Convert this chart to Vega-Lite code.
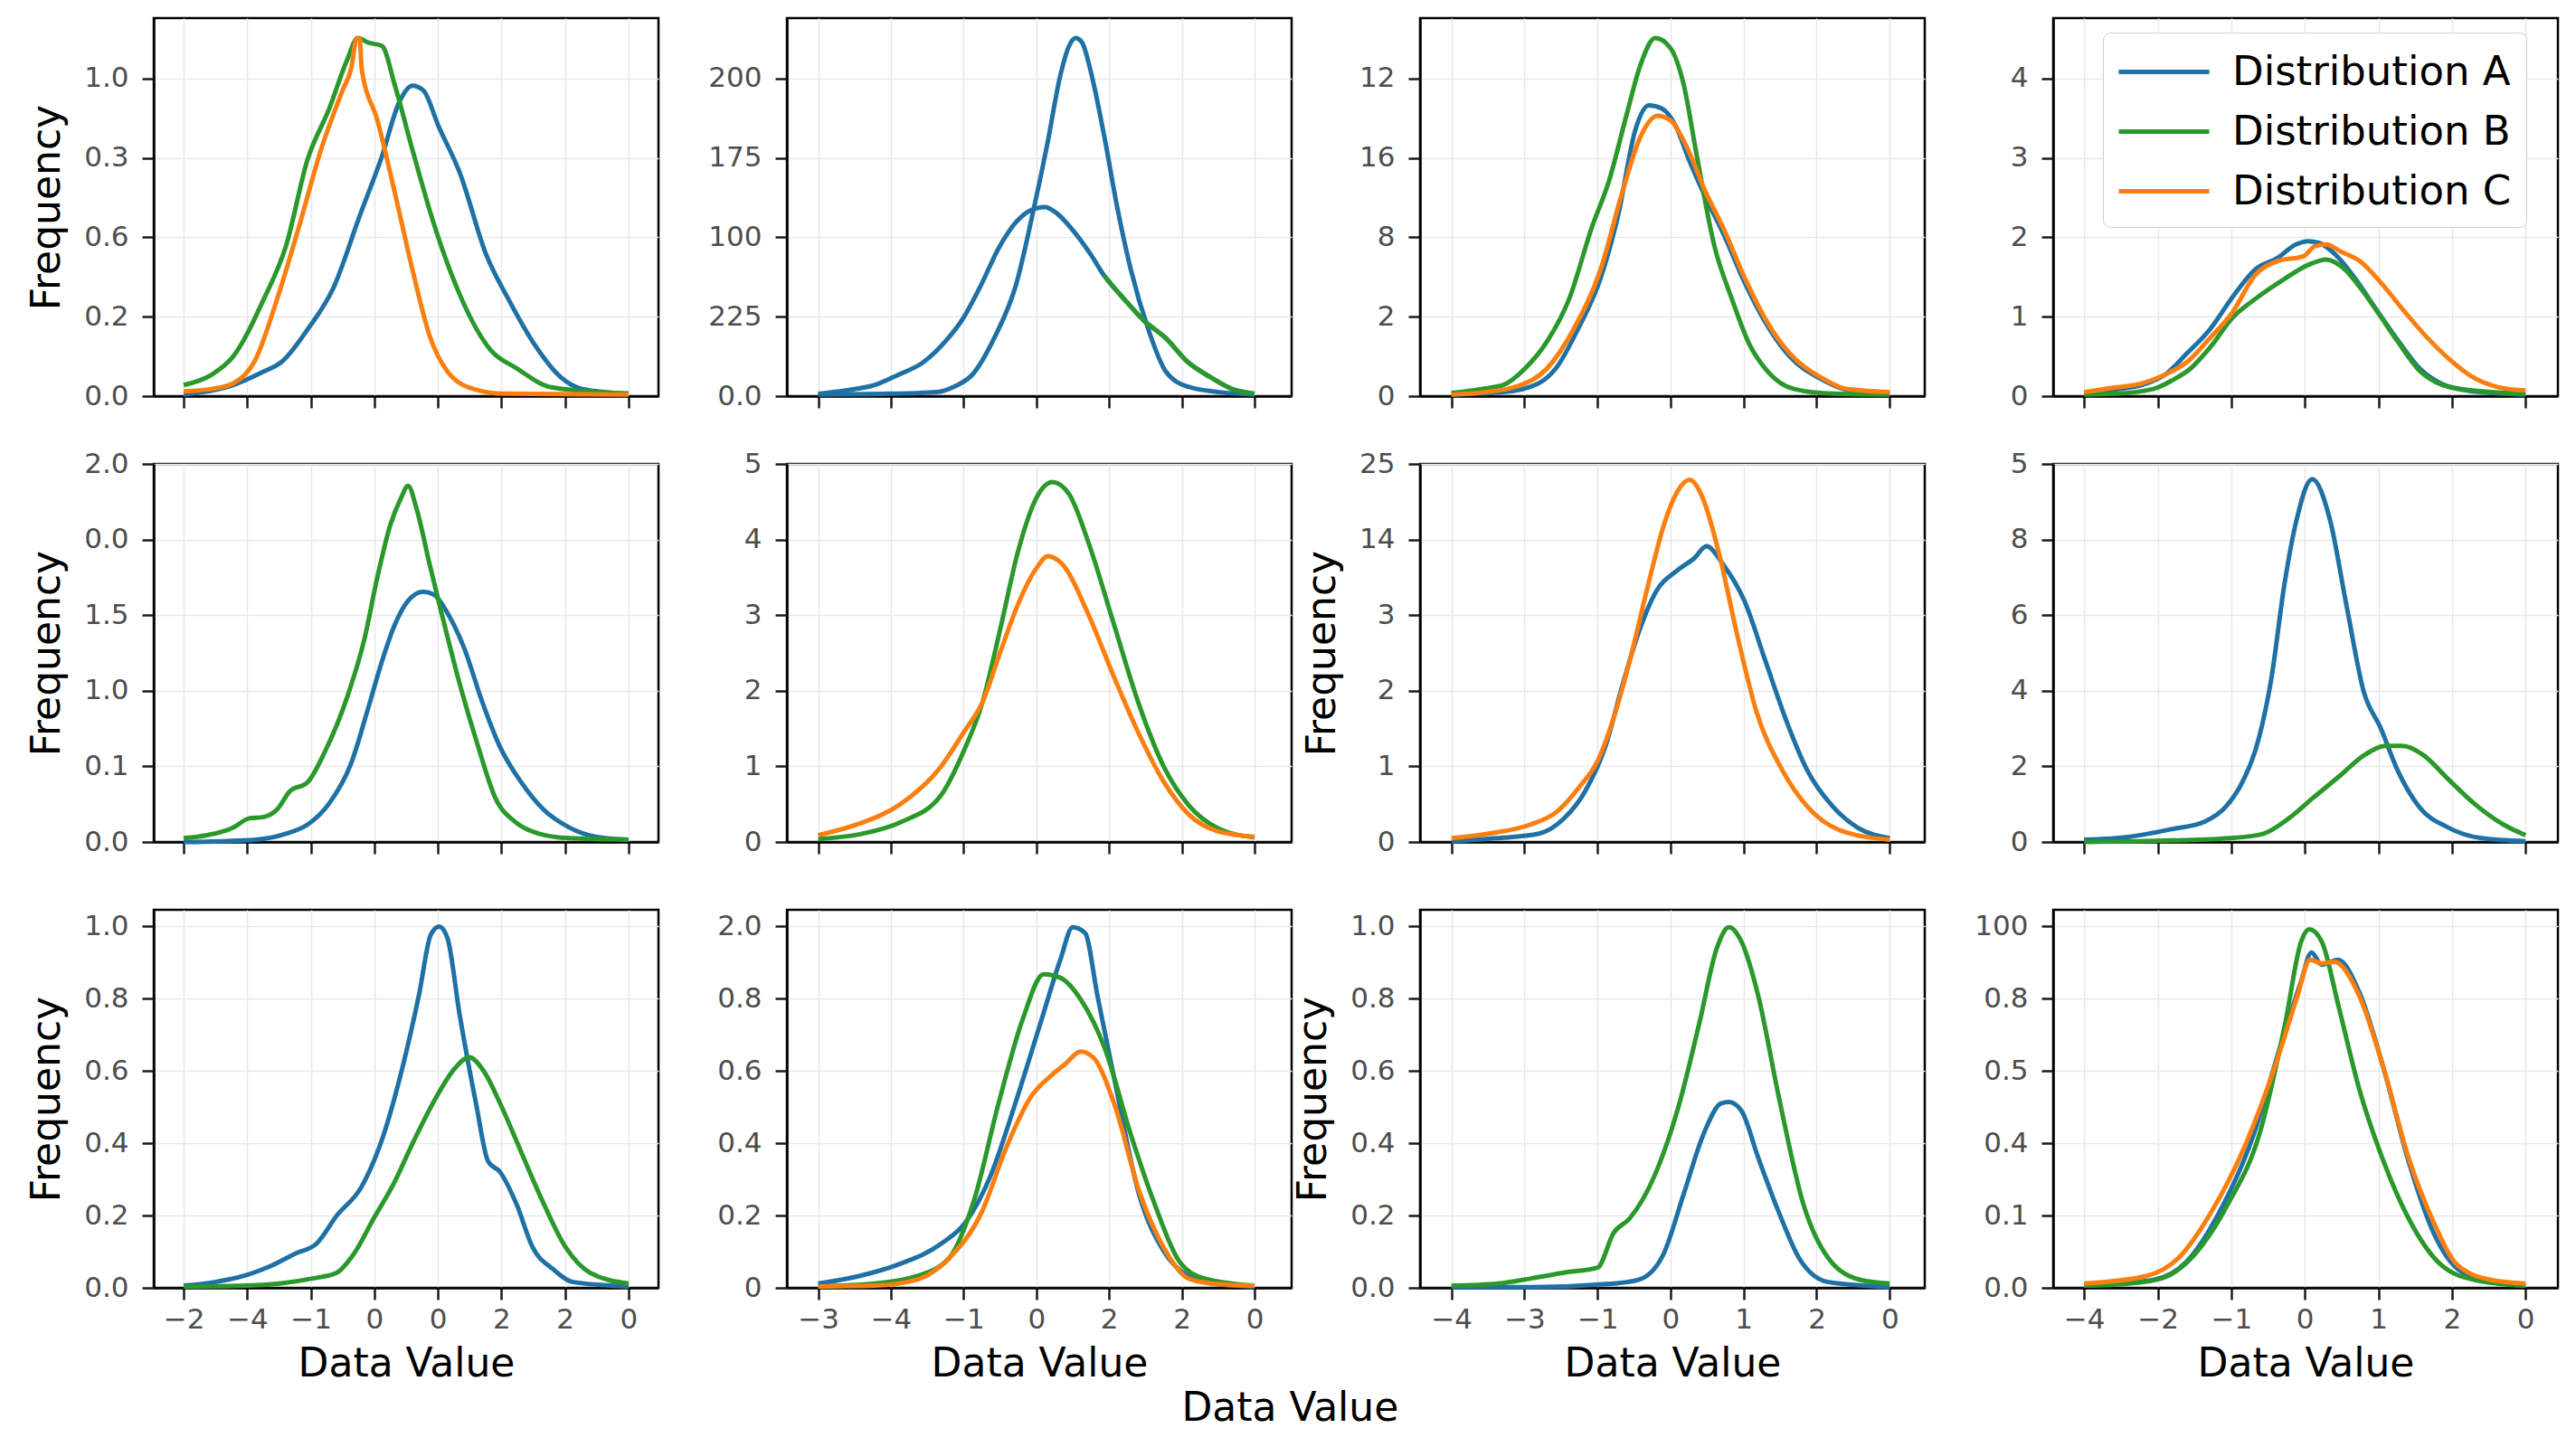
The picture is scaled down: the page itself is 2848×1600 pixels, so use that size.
{
  "$schema": "https://vega.github.io/schema/vega-lite/v6.json",
  "background": "#ffffff",
  "padding": {"left": 29, "top": 18, "right": 20, "bottom": 20},
  "datasets": {
    "curves": [
      {"p":1,"s":"A","c":"A","x":0,"y":0.02},{"p":1,"s":"A","c":"A","x":0.71,"y":0.12},{"p":1,"s":"A","c":"A","x":1.26,"y":0.31},{"p":1,"s":"A","c":"A","x":1.54,"y":0.43},{"p":1,"s":"A","c":"A","x":1.95,"y":0.84},{"p":1,"s":"A","c":"A","x":2.36,"y":1.37},{"p":1,"s":"A","c":"A","x":2.77,"y":2.27},{"p":1,"s":"A","c":"A","x":3.12,"y":3.02},{"p":1,"s":"A","c":"A","x":3.39,"y":3.70},{"p":1,"s":"A","c":"A","x":3.60,"y":3.91},{"p":1,"s":"A","c":"A","x":3.77,"y":3.85},{"p":1,"s":"A","c":"A","x":4.01,"y":3.40},{"p":1,"s":"A","c":"A","x":4.35,"y":2.80},{"p":1,"s":"A","c":"A","x":4.76,"y":1.78},{"p":1,"s":"A","c":"A","x":5.11,"y":1.22},{"p":1,"s":"A","c":"A","x":5.52,"y":0.65},{"p":1,"s":"A","c":"A","x":5.93,"y":0.24},{"p":1,"s":"A","c":"A","x":6.27,"y":0.09},{"p":1,"s":"A","c":"A","x":7,"y":0.03},
      {"p":1,"s":"B","c":"B","x":0,"y":0.14},{"p":1,"s":"B","c":"B","x":0.44,"y":0.27},{"p":1,"s":"B","c":"B","x":0.78,"y":0.50},{"p":1,"s":"B","c":"B","x":1.26,"y":1.22},{"p":1,"s":"B","c":"B","x":1.61,"y":1.89},{"p":1,"s":"B","c":"B","x":1.95,"y":2.98},{"p":1,"s":"B","c":"B","x":2.29,"y":3.62},{"p":1,"s":"B","c":"B","x":2.57,"y":4.23},{"p":1,"s":"B","c":"B","x":2.74,"y":4.51},{"p":1,"s":"B","c":"B","x":2.91,"y":4.45},{"p":1,"s":"B","c":"B","x":3.12,"y":4.41},{"p":1,"s":"B","c":"B","x":3.32,"y":3.92},{"p":1,"s":"B","c":"B","x":3.60,"y":3.10},{"p":1,"s":"B","c":"B","x":3.94,"y":2.16},{"p":1,"s":"B","c":"B","x":4.28,"y":1.40},{"p":1,"s":"B","c":"B","x":4.83,"y":0.58},{"p":1,"s":"B","c":"B","x":5.24,"y":0.35},{"p":1,"s":"B","c":"B","x":5.79,"y":0.11},{"p":1,"s":"B","c":"B","x":7,"y":0.03},
      {"p":1,"s":"C","c":"C","x":0,"y":0.06},{"p":1,"s":"C","c":"C","x":0.44,"y":0.09},{"p":1,"s":"C","c":"C","x":0.78,"y":0.16},{"p":1,"s":"C","c":"C","x":1.13,"y":0.46},{"p":1,"s":"C","c":"C","x":1.47,"y":1.22},{"p":1,"s":"C","c":"C","x":1.81,"y":2.12},{"p":1,"s":"C","c":"C","x":2.16,"y":3.10},{"p":1,"s":"C","c":"C","x":2.50,"y":3.85},{"p":1,"s":"C","c":"C","x":2.64,"y":4.14},{"p":1,"s":"C","c":"C","x":2.72,"y":4.50},{"p":1,"s":"C","c":"C","x":2.77,"y":4.50},{"p":1,"s":"C","c":"C","x":2.80,"y":4.13},{"p":1,"s":"C","c":"C","x":3.05,"y":3.47},{"p":1,"s":"C","c":"C","x":3.32,"y":2.57},{"p":1,"s":"C","c":"C","x":3.60,"y":1.59},{"p":1,"s":"C","c":"C","x":3.87,"y":0.76},{"p":1,"s":"C","c":"C","x":4.15,"y":0.31},{"p":1,"s":"C","c":"C","x":4.56,"y":0.09},{"p":1,"s":"C","c":"C","x":5.04,"y":0.03},{"p":1,"s":"C","c":"C","x":7,"y":0.02},

      {"p":2,"s":"A","c":"A","x":0,"y":0.02},{"p":2,"s":"A","c":"A","x":0.96,"y":0.03},{"p":2,"s":"A","c":"A","x":1.63,"y":0.05},{"p":2,"s":"A","c":"A","x":1.87,"y":0.12},{"p":2,"s":"A","c":"A","x":2.12,"y":0.27},{"p":2,"s":"A","c":"A","x":2.42,"y":0.73},{"p":2,"s":"A","c":"A","x":2.72,"y":1.40},{"p":2,"s":"A","c":"A","x":2.96,"y":2.34},{"p":2,"s":"A","c":"A","x":3.15,"y":3.17},{"p":2,"s":"A","c":"A","x":3.33,"y":4.04},{"p":2,"s":"A","c":"A","x":3.45,"y":4.41},{"p":2,"s":"A","c":"A","x":3.54,"y":4.51},{"p":2,"s":"A","c":"A","x":3.63,"y":4.45},{"p":2,"s":"A","c":"A","x":3.75,"y":4.08},{"p":2,"s":"A","c":"A","x":3.93,"y":3.29},{"p":2,"s":"A","c":"A","x":4.12,"y":2.34},{"p":2,"s":"A","c":"A","x":4.30,"y":1.59},{"p":2,"s":"A","c":"A","x":4.54,"y":0.84},{"p":2,"s":"A","c":"A","x":4.78,"y":0.31},{"p":2,"s":"A","c":"A","x":5.08,"y":0.12},{"p":2,"s":"A","c":"A","x":5.51,"y":0.05},{"p":2,"s":"A","c":"A","x":6,"y":0.02},
      {"p":2,"s":"A","c":"A2","x":0,"y":0.03},{"p":2,"s":"A","c":"A2","x":0.36,"y":0.07},{"p":2,"s":"A","c":"A2","x":0.78,"y":0.14},{"p":2,"s":"A","c":"A2","x":1.08,"y":0.26},{"p":2,"s":"A","c":"A2","x":1.45,"y":0.43},{"p":2,"s":"A","c":"A2","x":1.75,"y":0.69},{"p":2,"s":"A","c":"A2","x":2.0,"y":0.99},{"p":2,"s":"A","c":"A2","x":2.24,"y":1.40},{"p":2,"s":"A","c":"A2","x":2.48,"y":1.86},{"p":2,"s":"A","c":"A2","x":2.72,"y":2.19},{"p":2,"s":"A","c":"A2","x":2.90,"y":2.33},{"p":2,"s":"A","c":"A2","x":3.12,"y":2.38},{"p":2,"s":"A","c":"A2","x":3.27,"y":2.31},{"p":2,"s":"A","c":"A2","x":3.51,"y":2.08},{"p":2,"s":"A","c":"A2","x":3.75,"y":1.78},{"p":2,"s":"A","c":"A2","x":3.93,"y":1.52},{"p":2,"s":"A","c":"A2","x":4.18,"y":1.25},{"p":2,"s":"A","c":"A2","x":4.48,"y":0.95},{"p":2,"s":"A","c":"A2","x":4.78,"y":0.73},{"p":2,"s":"A","c":"A2","x":5.08,"y":0.43},{"p":2,"s":"A","c":"A2","x":5.39,"y":0.24},{"p":2,"s":"A","c":"A2","x":5.69,"y":0.09},{"p":2,"s":"A","c":"A2","x":6,"y":0.03},
      {"p":2,"s":"B","c":"B","x":3.93,"y":1.52},{"p":2,"s":"B","c":"B","x":4.18,"y":1.25},{"p":2,"s":"B","c":"B","x":4.48,"y":0.95},{"p":2,"s":"B","c":"B","x":4.78,"y":0.73},{"p":2,"s":"B","c":"B","x":5.08,"y":0.43},{"p":2,"s":"B","c":"B","x":5.39,"y":0.24},{"p":2,"s":"B","c":"B","x":5.69,"y":0.09},{"p":2,"s":"B","c":"B","x":6,"y":0.03},

      {"p":3,"s":"A","c":"A","x":0,"y":0.02},{"p":3,"s":"A","c":"A","x":0.71,"y":0.05},{"p":3,"s":"A","c":"A","x":1.19,"y":0.16},{"p":3,"s":"A","c":"A","x":1.43,"y":0.35},{"p":3,"s":"A","c":"A","x":1.73,"y":0.84},{"p":3,"s":"A","c":"A","x":2.04,"y":1.48},{"p":3,"s":"A","c":"A","x":2.28,"y":2.27},{"p":3,"s":"A","c":"A","x":2.52,"y":3.36},{"p":3,"s":"A","c":"A","x":2.70,"y":3.66},{"p":3,"s":"A","c":"A","x":2.88,"y":3.62},{"p":3,"s":"A","c":"A","x":3.07,"y":3.40},{"p":3,"s":"A","c":"A","x":3.25,"y":2.98},{"p":3,"s":"A","c":"A","x":3.48,"y":2.50},{"p":3,"s":"A","c":"A","x":3.72,"y":2.05},{"p":3,"s":"A","c":"A","x":4.02,"y":1.42},{"p":3,"s":"A","c":"A","x":4.33,"y":0.88},{"p":3,"s":"A","c":"A","x":4.63,"y":0.50},{"p":3,"s":"A","c":"A","x":5.05,"y":0.22},{"p":3,"s":"A","c":"A","x":5.41,"y":0.08},{"p":3,"s":"A","c":"A","x":6,"y":0.03},
      {"p":3,"s":"B","c":"B","x":0,"y":0.04},{"p":3,"s":"B","c":"B","x":0.41,"y":0.09},{"p":3,"s":"B","c":"B","x":0.71,"y":0.14},{"p":3,"s":"B","c":"B","x":1.01,"y":0.35},{"p":3,"s":"B","c":"B","x":1.31,"y":0.69},{"p":3,"s":"B","c":"B","x":1.61,"y":1.22},{"p":3,"s":"B","c":"B","x":1.92,"y":2.12},{"p":3,"s":"B","c":"B","x":2.16,"y":2.72},{"p":3,"s":"B","c":"B","x":2.40,"y":3.55},{"p":3,"s":"B","c":"B","x":2.58,"y":4.15},{"p":3,"s":"B","c":"B","x":2.79,"y":4.51},{"p":3,"s":"B","c":"B","x":3.0,"y":4.38},{"p":3,"s":"B","c":"B","x":3.18,"y":3.92},{"p":3,"s":"B","c":"B","x":3.36,"y":3.02},{"p":3,"s":"B","c":"B","x":3.60,"y":1.89},{"p":3,"s":"B","c":"B","x":3.84,"y":1.22},{"p":3,"s":"B","c":"B","x":4.08,"y":0.65},{"p":3,"s":"B","c":"B","x":4.33,"y":0.31},{"p":3,"s":"B","c":"B","x":4.69,"y":0.09},{"p":3,"s":"B","c":"B","x":5.23,"y":0.03},{"p":3,"s":"B","c":"B","x":6,"y":0.02},
      {"p":3,"s":"C","c":"C","x":0,"y":0.02},{"p":3,"s":"C","c":"C","x":0.47,"y":0.05},{"p":3,"s":"C","c":"C","x":0.89,"y":0.12},{"p":3,"s":"C","c":"C","x":1.31,"y":0.35},{"p":3,"s":"C","c":"C","x":1.67,"y":0.84},{"p":3,"s":"C","c":"C","x":2.04,"y":1.59},{"p":3,"s":"C","c":"C","x":2.34,"y":2.57},{"p":3,"s":"C","c":"C","x":2.58,"y":3.25},{"p":3,"s":"C","c":"C","x":2.82,"y":3.53},{"p":3,"s":"C","c":"C","x":3.0,"y":3.47},{"p":3,"s":"C","c":"C","x":3.24,"y":3.10},{"p":3,"s":"C","c":"C","x":3.48,"y":2.57},{"p":3,"s":"C","c":"C","x":3.72,"y":2.12},{"p":3,"s":"C","c":"C","x":4.02,"y":1.48},{"p":3,"s":"C","c":"C","x":4.33,"y":0.92},{"p":3,"s":"C","c":"C","x":4.63,"y":0.54},{"p":3,"s":"C","c":"C","x":5.05,"y":0.24},{"p":3,"s":"C","c":"C","x":5.41,"y":0.09},{"p":3,"s":"C","c":"C","x":6,"y":0.05},

      {"p":4,"s":"A","c":"A","x":0,"y":0.04},{"p":4,"s":"A","c":"A","x":0.48,"y":0.09},{"p":4,"s":"A","c":"A","x":0.79,"y":0.14},{"p":4,"s":"A","c":"A","x":1.10,"y":0.27},{"p":4,"s":"A","c":"A","x":1.40,"y":0.54},{"p":4,"s":"A","c":"A","x":1.71,"y":0.84},{"p":4,"s":"A","c":"A","x":2.02,"y":1.25},{"p":4,"s":"A","c":"A","x":2.32,"y":1.59},{"p":4,"s":"A","c":"A","x":2.63,"y":1.74},{"p":4,"s":"A","c":"A","x":2.88,"y":1.91},{"p":4,"s":"A","c":"A","x":3.04,"y":1.95},{"p":4,"s":"A","c":"A","x":3.19,"y":1.93},{"p":4,"s":"A","c":"A","x":3.44,"y":1.76},{"p":4,"s":"A","c":"A","x":3.70,"y":1.46},{"p":4,"s":"A","c":"A","x":3.95,"y":1.12},{"p":4,"s":"A","c":"A","x":4.26,"y":0.71},{"p":4,"s":"A","c":"A","x":4.57,"y":0.34},{"p":4,"s":"A","c":"A","x":4.87,"y":0.15},{"p":4,"s":"A","c":"A","x":5.28,"y":0.06},{"p":4,"s":"A","c":"A","x":6,"y":0.02},
      {"p":4,"s":"B","c":"B","x":0,"y":0.02},{"p":4,"s":"B","c":"B","x":0.43,"y":0.03},{"p":4,"s":"B","c":"B","x":0.94,"y":0.09},{"p":4,"s":"B","c":"B","x":1.20,"y":0.20},{"p":4,"s":"B","c":"B","x":1.45,"y":0.35},{"p":4,"s":"B","c":"B","x":1.71,"y":0.61},{"p":4,"s":"B","c":"B","x":2.02,"y":0.99},{"p":4,"s":"B","c":"B","x":2.32,"y":1.22},{"p":4,"s":"B","c":"B","x":2.73,"y":1.48},{"p":4,"s":"B","c":"B","x":3.04,"y":1.65},{"p":4,"s":"B","c":"B","x":3.29,"y":1.72},{"p":4,"s":"B","c":"B","x":3.55,"y":1.59},{"p":4,"s":"B","c":"B","x":3.75,"y":1.37},{"p":4,"s":"B","c":"B","x":4.01,"y":1.03},{"p":4,"s":"B","c":"B","x":4.26,"y":0.69},{"p":4,"s":"B","c":"B","x":4.57,"y":0.31},{"p":4,"s":"B","c":"B","x":4.87,"y":0.14},{"p":4,"s":"B","c":"B","x":5.28,"y":0.07},{"p":4,"s":"B","c":"B","x":6,"y":0.03},
      {"p":4,"s":"C","c":"C","x":0,"y":0.05},{"p":4,"s":"C","c":"C","x":0.43,"y":0.11},{"p":4,"s":"C","c":"C","x":0.79,"y":0.16},{"p":4,"s":"C","c":"C","x":1.10,"y":0.27},{"p":4,"s":"C","c":"C","x":1.40,"y":0.43},{"p":4,"s":"C","c":"C","x":1.71,"y":0.73},{"p":4,"s":"C","c":"C","x":2.02,"y":1.06},{"p":4,"s":"C","c":"C","x":2.32,"y":1.52},{"p":4,"s":"C","c":"C","x":2.63,"y":1.70},{"p":4,"s":"C","c":"C","x":2.98,"y":1.76},{"p":4,"s":"C","c":"C","x":3.14,"y":1.89},{"p":4,"s":"C","c":"C","x":3.29,"y":1.91},{"p":4,"s":"C","c":"C","x":3.49,"y":1.82},{"p":4,"s":"C","c":"C","x":3.75,"y":1.70},{"p":4,"s":"C","c":"C","x":4.06,"y":1.40},{"p":4,"s":"C","c":"C","x":4.36,"y":1.06},{"p":4,"s":"C","c":"C","x":4.67,"y":0.73},{"p":4,"s":"C","c":"C","x":4.97,"y":0.46},{"p":4,"s":"C","c":"C","x":5.28,"y":0.24},{"p":4,"s":"C","c":"C","x":5.64,"y":0.11},{"p":4,"s":"C","c":"C","x":6,"y":0.07},

      {"p":5,"s":"A","c":"A","x":0,"y":0.0},{"p":5,"s":"A","c":"A","x":0.58,"y":0.01},{"p":5,"s":"A","c":"A","x":1.13,"y":0.03},{"p":5,"s":"A","c":"A","x":1.61,"y":0.11},{"p":5,"s":"A","c":"A","x":1.95,"y":0.23},{"p":5,"s":"A","c":"A","x":2.29,"y":0.51},{"p":5,"s":"A","c":"A","x":2.63,"y":1.03},{"p":5,"s":"A","c":"A","x":2.91,"y":1.79},{"p":5,"s":"A","c":"A","x":3.12,"y":2.39},{"p":5,"s":"A","c":"A","x":3.32,"y":2.87},{"p":5,"s":"A","c":"A","x":3.53,"y":3.19},{"p":5,"s":"A","c":"A","x":3.77,"y":3.31},{"p":5,"s":"A","c":"A","x":3.94,"y":3.27},{"p":5,"s":"A","c":"A","x":4.15,"y":3.03},{"p":5,"s":"A","c":"A","x":4.42,"y":2.55},{"p":5,"s":"A","c":"A","x":4.69,"y":1.87},{"p":5,"s":"A","c":"A","x":4.97,"y":1.27},{"p":5,"s":"A","c":"A","x":5.31,"y":0.79},{"p":5,"s":"A","c":"A","x":5.66,"y":0.43},{"p":5,"s":"A","c":"A","x":6.07,"y":0.19},{"p":5,"s":"A","c":"A","x":6.48,"y":0.07},{"p":5,"s":"A","c":"A","x":7,"y":0.03},
      {"p":5,"s":"B","c":"B","x":0,"y":0.05},{"p":5,"s":"B","c":"B","x":0.37,"y":0.09},{"p":5,"s":"B","c":"B","x":0.78,"y":0.19},{"p":5,"s":"B","c":"B","x":1.02,"y":0.31},{"p":5,"s":"B","c":"B","x":1.26,"y":0.33},{"p":5,"s":"B","c":"B","x":1.47,"y":0.43},{"p":5,"s":"B","c":"B","x":1.67,"y":0.67},{"p":5,"s":"B","c":"B","x":1.95,"y":0.79},{"p":5,"s":"B","c":"B","x":2.22,"y":1.19},{"p":5,"s":"B","c":"B","x":2.57,"y":1.91},{"p":5,"s":"B","c":"B","x":2.84,"y":2.67},{"p":5,"s":"B","c":"B","x":3.05,"y":3.51},{"p":5,"s":"B","c":"B","x":3.25,"y":4.19},{"p":5,"s":"B","c":"B","x":3.42,"y":4.55},{"p":5,"s":"B","c":"B","x":3.53,"y":4.71},{"p":5,"s":"B","c":"B","x":3.67,"y":4.39},{"p":5,"s":"B","c":"B","x":3.87,"y":3.67},{"p":5,"s":"B","c":"B","x":4.08,"y":2.95},{"p":5,"s":"B","c":"B","x":4.35,"y":2.07},{"p":5,"s":"B","c":"B","x":4.63,"y":1.27},{"p":5,"s":"B","c":"B","x":4.90,"y":0.59},{"p":5,"s":"B","c":"B","x":5.24,"y":0.25},{"p":5,"s":"B","c":"B","x":5.59,"y":0.11},{"p":5,"s":"B","c":"B","x":6.07,"y":0.05},{"p":5,"s":"B","c":"B","x":7,"y":0.03},

      {"p":6,"s":"B","c":"B","x":0,"y":0.04},{"p":6,"s":"B","c":"B","x":0.56,"y":0.10},{"p":6,"s":"B","c":"B","x":1.13,"y":0.26},{"p":6,"s":"B","c":"B","x":1.69,"y":0.62},{"p":6,"s":"B","c":"B","x":2.0,"y":1.2},{"p":6,"s":"B","c":"B","x":2.26,"y":1.85},{"p":6,"s":"B","c":"B","x":2.50,"y":2.8},{"p":6,"s":"B","c":"B","x":2.75,"y":3.85},{"p":6,"s":"B","c":"B","x":3.0,"y":4.55},{"p":6,"s":"B","c":"B","x":3.22,"y":4.76},{"p":6,"s":"B","c":"B","x":3.45,"y":4.60},{"p":6,"s":"B","c":"B","x":3.72,"y":3.95},{"p":6,"s":"B","c":"B","x":4.06,"y":2.90},{"p":6,"s":"B","c":"B","x":4.40,"y":1.85},{"p":6,"s":"B","c":"B","x":4.75,"y":1.0},{"p":6,"s":"B","c":"B","x":5.10,"y":0.48},{"p":6,"s":"B","c":"B","x":5.50,"y":0.18},{"p":6,"s":"B","c":"B","x":6,"y":0.06},
      {"p":6,"s":"C","c":"C","x":0,"y":0.09},{"p":6,"s":"C","c":"C","x":0.56,"y":0.24},{"p":6,"s":"C","c":"C","x":1.13,"y":0.50},{"p":6,"s":"C","c":"C","x":1.69,"y":1.0},{"p":6,"s":"C","c":"C","x":2.0,"y":1.45},{"p":6,"s":"C","c":"C","x":2.26,"y":1.85},{"p":6,"s":"C","c":"C","x":2.50,"y":2.5},{"p":6,"s":"C","c":"C","x":2.75,"y":3.15},{"p":6,"s":"C","c":"C","x":3.0,"y":3.62},{"p":6,"s":"C","c":"C","x":3.16,"y":3.78},{"p":6,"s":"C","c":"C","x":3.35,"y":3.68},{"p":6,"s":"C","c":"C","x":3.72,"y":3.0},{"p":6,"s":"C","c":"C","x":4.06,"y":2.20},{"p":6,"s":"C","c":"C","x":4.40,"y":1.45},{"p":6,"s":"C","c":"C","x":4.75,"y":0.80},{"p":6,"s":"C","c":"C","x":5.10,"y":0.36},{"p":6,"s":"C","c":"C","x":5.50,"y":0.14},{"p":6,"s":"C","c":"C","x":6,"y":0.07},

      {"p":7,"s":"A","c":"A","x":0,"y":0.01},{"p":7,"s":"A","c":"A","x":0.62,"y":0.05},{"p":7,"s":"A","c":"A","x":1.20,"y":0.11},{"p":7,"s":"A","c":"A","x":1.54,"y":0.31},{"p":7,"s":"A","c":"A","x":1.83,"y":0.67},{"p":7,"s":"A","c":"A","x":2.11,"y":1.27},{"p":7,"s":"A","c":"A","x":2.34,"y":2.07},{"p":7,"s":"A","c":"A","x":2.57,"y":2.79},{"p":7,"s":"A","c":"A","x":2.80,"y":3.31},{"p":7,"s":"A","c":"A","x":3.09,"y":3.59},{"p":7,"s":"A","c":"A","x":3.32,"y":3.75},{"p":7,"s":"A","c":"A","x":3.49,"y":3.91},{"p":7,"s":"A","c":"A","x":3.72,"y":3.67},{"p":7,"s":"A","c":"A","x":4.01,"y":3.19},{"p":7,"s":"A","c":"A","x":4.30,"y":2.39},{"p":7,"s":"A","c":"A","x":4.59,"y":1.59},{"p":7,"s":"A","c":"A","x":4.87,"y":0.95},{"p":7,"s":"A","c":"A","x":5.22,"y":0.47},{"p":7,"s":"A","c":"A","x":5.56,"y":0.19},{"p":7,"s":"A","c":"A","x":6,"y":0.05},
      {"p":7,"s":"C","c":"C","x":0,"y":0.05},{"p":7,"s":"C","c":"C","x":0.51,"y":0.11},{"p":7,"s":"C","c":"C","x":1.08,"y":0.23},{"p":7,"s":"C","c":"C","x":1.43,"y":0.39},{"p":7,"s":"C","c":"C","x":1.77,"y":0.75},{"p":7,"s":"C","c":"C","x":2.0,"y":1.07},{"p":7,"s":"C","c":"C","x":2.23,"y":1.67},{"p":7,"s":"C","c":"C","x":2.46,"y":2.47},{"p":7,"s":"C","c":"C","x":2.69,"y":3.39},{"p":7,"s":"C","c":"C","x":2.92,"y":4.23},{"p":7,"s":"C","c":"C","x":3.09,"y":4.63},{"p":7,"s":"C","c":"C","x":3.26,"y":4.79},{"p":7,"s":"C","c":"C","x":3.44,"y":4.55},{"p":7,"s":"C","c":"C","x":3.67,"y":3.79},{"p":7,"s":"C","c":"C","x":3.90,"y":2.79},{"p":7,"s":"C","c":"C","x":4.18,"y":1.71},{"p":7,"s":"C","c":"C","x":4.53,"y":0.95},{"p":7,"s":"C","c":"C","x":4.87,"y":0.47},{"p":7,"s":"C","c":"C","x":5.33,"y":0.15},{"p":7,"s":"C","c":"C","x":6,"y":0.03},

      {"p":8,"s":"A","c":"A","x":0,"y":0.03},{"p":8,"s":"A","c":"A","x":0.62,"y":0.07},{"p":8,"s":"A","c":"A","x":1.19,"y":0.17},{"p":8,"s":"A","c":"A","x":1.64,"y":0.27},{"p":8,"s":"A","c":"A","x":1.93,"y":0.47},{"p":8,"s":"A","c":"A","x":2.15,"y":0.79},{"p":8,"s":"A","c":"A","x":2.38,"y":1.39},{"p":8,"s":"A","c":"A","x":2.55,"y":2.19},{"p":8,"s":"A","c":"A","x":2.72,"y":3.39},{"p":8,"s":"A","c":"A","x":2.89,"y":4.27},{"p":8,"s":"A","c":"A","x":3.10,"y":4.80},{"p":8,"s":"A","c":"A","x":3.34,"y":4.27},{"p":8,"s":"A","c":"A","x":3.57,"y":3.11},{"p":8,"s":"A","c":"A","x":3.80,"y":1.99},{"p":8,"s":"A","c":"A","x":4.03,"y":1.51},{"p":8,"s":"A","c":"A","x":4.26,"y":0.95},{"p":8,"s":"A","c":"A","x":4.55,"y":0.47},{"p":8,"s":"A","c":"A","x":4.95,"y":0.19},{"p":8,"s":"A","c":"A","x":5.40,"y":0.05},{"p":8,"s":"A","c":"A","x":6,"y":0.01},
      {"p":8,"s":"B","c":"B","x":0,"y":0.0},{"p":8,"s":"B","c":"B","x":1.19,"y":0.02},{"p":8,"s":"B","c":"B","x":1.98,"y":0.05},{"p":8,"s":"B","c":"B","x":2.44,"y":0.11},{"p":8,"s":"B","c":"B","x":2.78,"y":0.31},{"p":8,"s":"B","c":"B","x":3.12,"y":0.59},{"p":8,"s":"B","c":"B","x":3.47,"y":0.87},{"p":8,"s":"B","c":"B","x":3.81,"y":1.15},{"p":8,"s":"B","c":"B","x":4.10,"y":1.27},{"p":8,"s":"B","c":"B","x":4.33,"y":1.27},{"p":8,"s":"B","c":"B","x":4.61,"y":1.15},{"p":8,"s":"B","c":"B","x":4.95,"y":0.83},{"p":8,"s":"B","c":"B","x":5.30,"y":0.51},{"p":8,"s":"B","c":"B","x":5.70,"y":0.23},{"p":8,"s":"B","c":"B","x":6,"y":0.09},

      {"p":9,"s":"A","c":"A","x":0,"y":0.03},{"p":9,"s":"A","c":"A","x":0.49,"y":0.08},{"p":9,"s":"A","c":"A","x":1.0,"y":0.18},{"p":9,"s":"A","c":"A","x":1.39,"y":0.31},{"p":9,"s":"A","c":"A","x":1.77,"y":0.48},{"p":9,"s":"A","c":"A","x":2.09,"y":0.61},{"p":9,"s":"A","c":"A","x":2.41,"y":1.0},{"p":9,"s":"A","c":"A","x":2.80,"y":1.40},{"p":9,"s":"A","c":"A","x":3.12,"y":2.05},{"p":9,"s":"A","c":"A","x":3.44,"y":3.04},{"p":9,"s":"A","c":"A","x":3.70,"y":4.04},{"p":9,"s":"A","c":"A","x":3.89,"y":4.89},{"p":9,"s":"A","c":"A","x":4.02,"y":5.0},{"p":9,"s":"A","c":"A","x":4.15,"y":4.84},{"p":9,"s":"A","c":"A","x":4.34,"y":3.79},{"p":9,"s":"A","c":"A","x":4.60,"y":2.55},{"p":9,"s":"A","c":"A","x":4.79,"y":1.75},{"p":9,"s":"A","c":"A","x":4.98,"y":1.60},{"p":9,"s":"A","c":"A","x":5.24,"y":1.15},{"p":9,"s":"A","c":"A","x":5.49,"y":0.56},{"p":9,"s":"A","c":"A","x":5.81,"y":0.26},{"p":9,"s":"A","c":"A","x":6.13,"y":0.08},{"p":9,"s":"A","c":"A","x":7,"y":0.02},
      {"p":9,"s":"B","c":"B","x":0,"y":0.02},{"p":9,"s":"B","c":"B","x":1.0,"y":0.03},{"p":9,"s":"B","c":"B","x":1.51,"y":0.06},{"p":9,"s":"B","c":"B","x":2.03,"y":0.13},{"p":9,"s":"B","c":"B","x":2.41,"y":0.21},{"p":9,"s":"B","c":"B","x":2.67,"y":0.46},{"p":9,"s":"B","c":"B","x":2.99,"y":0.96},{"p":9,"s":"B","c":"B","x":3.31,"y":1.45},{"p":9,"s":"B","c":"B","x":3.63,"y":2.05},{"p":9,"s":"B","c":"B","x":3.95,"y":2.60},{"p":9,"s":"B","c":"B","x":4.27,"y":3.04},{"p":9,"s":"B","c":"B","x":4.49,"y":3.19},{"p":9,"s":"B","c":"B","x":4.72,"y":3.0},{"p":9,"s":"B","c":"B","x":4.98,"y":2.55},{"p":9,"s":"B","c":"B","x":5.30,"y":1.90},{"p":9,"s":"B","c":"B","x":5.62,"y":1.25},{"p":9,"s":"B","c":"B","x":6.01,"y":0.56},{"p":9,"s":"B","c":"B","x":6.39,"y":0.21},{"p":9,"s":"B","c":"B","x":7,"y":0.06},

      {"p":10,"s":"A","c":"A","x":0,"y":0.06},{"p":10,"s":"A","c":"A","x":0.55,"y":0.16},{"p":10,"s":"A","c":"A","x":1.12,"y":0.33},{"p":10,"s":"A","c":"A","x":1.69,"y":0.61},{"p":10,"s":"A","c":"A","x":2.03,"y":0.91},{"p":10,"s":"A","c":"A","x":2.37,"y":1.55},{"p":10,"s":"A","c":"A","x":2.71,"y":2.55},{"p":10,"s":"A","c":"A","x":3.05,"y":3.64},{"p":10,"s":"A","c":"A","x":3.33,"y":4.54},{"p":10,"s":"A","c":"A","x":3.50,"y":4.99},{"p":10,"s":"A","c":"A","x":3.67,"y":4.91},{"p":10,"s":"A","c":"A","x":3.84,"y":4.04},{"p":10,"s":"A","c":"A","x":4.07,"y":2.90},{"p":10,"s":"A","c":"A","x":4.41,"y":1.30},{"p":10,"s":"A","c":"A","x":4.75,"y":0.51},{"p":10,"s":"A","c":"A","x":5.09,"y":0.16},{"p":10,"s":"A","c":"A","x":5.42,"y":0.06},{"p":10,"s":"A","c":"A","x":6,"y":0.02},
      {"p":10,"s":"B","c":"B","x":0,"y":0.02},{"p":10,"s":"B","c":"B","x":0.78,"y":0.06},{"p":10,"s":"B","c":"B","x":1.35,"y":0.16},{"p":10,"s":"B","c":"B","x":1.80,"y":0.41},{"p":10,"s":"B","c":"B","x":2.14,"y":1.20},{"p":10,"s":"B","c":"B","x":2.48,"y":2.55},{"p":10,"s":"B","c":"B","x":2.82,"y":3.74},{"p":10,"s":"B","c":"B","x":3.10,"y":4.34},{"p":10,"s":"B","c":"B","x":3.33,"y":4.29},{"p":10,"s":"B","c":"B","x":3.61,"y":3.99},{"p":10,"s":"B","c":"B","x":3.95,"y":3.29},{"p":10,"s":"B","c":"B","x":4.29,"y":2.15},{"p":10,"s":"B","c":"B","x":4.63,"y":1.15},{"p":10,"s":"B","c":"B","x":4.97,"y":0.36},{"p":10,"s":"B","c":"B","x":5.31,"y":0.13},{"p":10,"s":"B","c":"B","x":6,"y":0.03},
      {"p":10,"s":"C","c":"C","x":0,"y":0.02},{"p":10,"s":"C","c":"C","x":0.78,"y":0.03},{"p":10,"s":"C","c":"C","x":1.35,"y":0.11},{"p":10,"s":"C","c":"C","x":1.80,"y":0.41},{"p":10,"s":"C","c":"C","x":2.25,"y":1.05},{"p":10,"s":"C","c":"C","x":2.59,"y":1.95},{"p":10,"s":"C","c":"C","x":2.93,"y":2.65},{"p":10,"s":"C","c":"C","x":3.22,"y":2.95},{"p":10,"s":"C","c":"C","x":3.39,"y":3.09},{"p":10,"s":"C","c":"C","x":3.61,"y":3.27},{"p":10,"s":"C","c":"C","x":3.78,"y":3.19},{"p":10,"s":"C","c":"C","x":4.07,"y":2.55},{"p":10,"s":"C","c":"C","x":4.41,"y":1.35},{"p":10,"s":"C","c":"C","x":4.75,"y":0.56},{"p":10,"s":"C","c":"C","x":5.09,"y":0.13},{"p":10,"s":"C","c":"C","x":5.42,"y":0.06},{"p":10,"s":"C","c":"C","x":6,"y":0.03},

      {"p":11,"s":"A","c":"A","x":0,"y":0.01},{"p":11,"s":"A","c":"A","x":1.09,"y":0.01},{"p":11,"s":"A","c":"A","x":2.22,"y":0.06},{"p":11,"s":"A","c":"A","x":2.56,"y":0.11},{"p":11,"s":"A","c":"A","x":2.90,"y":0.46},{"p":11,"s":"A","c":"A","x":3.18,"y":1.30},{"p":11,"s":"A","c":"A","x":3.46,"y":2.15},{"p":11,"s":"A","c":"A","x":3.69,"y":2.55},{"p":11,"s":"A","c":"A","x":3.80,"y":2.57},{"p":11,"s":"A","c":"A","x":3.97,"y":2.45},{"p":11,"s":"A","c":"A","x":4.20,"y":1.80},{"p":11,"s":"A","c":"A","x":4.48,"y":1.05},{"p":11,"s":"A","c":"A","x":4.76,"y":0.41},{"p":11,"s":"A","c":"A","x":5.16,"y":0.08},{"p":11,"s":"A","c":"A","x":6,"y":0.01},
      {"p":11,"s":"B","c":"B","x":0,"y":0.03},{"p":11,"s":"B","c":"B","x":0.64,"y":0.06},{"p":11,"s":"B","c":"B","x":1.09,"y":0.13},{"p":11,"s":"B","c":"B","x":1.54,"y":0.21},{"p":11,"s":"B","c":"B","x":2.0,"y":0.28},{"p":11,"s":"B","c":"B","x":2.22,"y":0.76},{"p":11,"s":"B","c":"B","x":2.44,"y":0.96},{"p":11,"s":"B","c":"B","x":2.78,"y":1.55},{"p":11,"s":"B","c":"B","x":3.12,"y":2.55},{"p":11,"s":"B","c":"B","x":3.40,"y":3.69},{"p":11,"s":"B","c":"B","x":3.63,"y":4.69},{"p":11,"s":"B","c":"B","x":3.80,"y":4.99},{"p":11,"s":"B","c":"B","x":3.97,"y":4.79},{"p":11,"s":"B","c":"B","x":4.20,"y":4.04},{"p":11,"s":"B","c":"B","x":4.48,"y":2.65},{"p":11,"s":"B","c":"B","x":4.82,"y":1.15},{"p":11,"s":"B","c":"B","x":5.16,"y":0.41},{"p":11,"s":"B","c":"B","x":5.60,"y":0.11},{"p":11,"s":"B","c":"B","x":6,"y":0.06},

      {"p":12,"s":"A","c":"A","x":0,"y":0.03},{"p":12,"s":"A","c":"A","x":0.94,"y":0.11},{"p":12,"s":"A","c":"A","x":1.39,"y":0.36},{"p":12,"s":"A","c":"A","x":1.84,"y":1.05},{"p":12,"s":"A","c":"A","x":2.28,"y":2.05},{"p":12,"s":"A","c":"A","x":2.67,"y":3.35},{"p":12,"s":"A","c":"A","x":2.95,"y":4.24},{"p":12,"s":"A","c":"A","x":3.09,"y":4.64},{"p":12,"s":"A","c":"A","x":3.23,"y":4.47},{"p":12,"s":"A","c":"A","x":3.45,"y":4.54},{"p":12,"s":"A","c":"A","x":3.74,"y":4.09},{"p":12,"s":"A","c":"A","x":4.07,"y":3.04},{"p":12,"s":"A","c":"A","x":4.41,"y":1.75},{"p":12,"s":"A","c":"A","x":4.75,"y":0.76},{"p":12,"s":"A","c":"A","x":5.08,"y":0.26},{"p":12,"s":"A","c":"A","x":5.53,"y":0.08},{"p":12,"s":"A","c":"A","x":6,"y":0.03},
      {"p":12,"s":"B","c":"B","x":0,"y":0.03},{"p":12,"s":"B","c":"B","x":0.60,"y":0.06},{"p":12,"s":"B","c":"B","x":1.05,"y":0.13},{"p":12,"s":"B","c":"B","x":1.50,"y":0.46},{"p":12,"s":"B","c":"B","x":1.95,"y":1.15},{"p":12,"s":"B","c":"B","x":2.39,"y":2.15},{"p":12,"s":"B","c":"B","x":2.73,"y":3.64},{"p":12,"s":"B","c":"B","x":2.95,"y":4.79},{"p":12,"s":"B","c":"B","x":3.06,"y":4.96},{"p":12,"s":"B","c":"B","x":3.23,"y":4.79},{"p":12,"s":"B","c":"B","x":3.46,"y":3.89},{"p":12,"s":"B","c":"B","x":3.74,"y":2.75},{"p":12,"s":"B","c":"B","x":4.07,"y":1.75},{"p":12,"s":"B","c":"B","x":4.41,"y":0.96},{"p":12,"s":"B","c":"B","x":4.86,"y":0.31},{"p":12,"s":"B","c":"B","x":5.31,"y":0.11},{"p":12,"s":"B","c":"B","x":6,"y":0.03},
      {"p":12,"s":"C","c":"C","x":0,"y":0.06},{"p":12,"s":"C","c":"C","x":0.83,"y":0.16},{"p":12,"s":"C","c":"C","x":1.28,"y":0.41},{"p":12,"s":"C","c":"C","x":1.73,"y":1.05},{"p":12,"s":"C","c":"C","x":2.18,"y":1.95},{"p":12,"s":"C","c":"C","x":2.62,"y":3.14},{"p":12,"s":"C","c":"C","x":2.90,"y":4.04},{"p":12,"s":"C","c":"C","x":3.07,"y":4.54},{"p":12,"s":"C","c":"C","x":3.23,"y":4.49},{"p":12,"s":"C","c":"C","x":3.40,"y":4.51},{"p":12,"s":"C","c":"C","x":3.74,"y":4.04},{"p":12,"s":"C","c":"C","x":4.07,"y":3.04},{"p":12,"s":"C","c":"C","x":4.41,"y":1.80},{"p":12,"s":"C","c":"C","x":4.75,"y":0.91},{"p":12,"s":"C","c":"C","x":5.08,"y":0.31},{"p":12,"s":"C","c":"C","x":5.53,"y":0.11},{"p":12,"s":"C","c":"C","x":6,"y":0.06}
    ]
  },
  "data": {"name": "curves"},
  "columns": 4,
  "bounds": "flush",
  "spacing": {"row": 75, "column": 142},
  "resolve": {"scale": {"x": "independent", "y": "independent"}},
  "title": {"text": "Data Value", "orient": "bottom", "anchor": "middle", "font": "DejaVu Sans", "fontSize": 44, "fontWeight": "normal", "color": "#000000", "offset": 5, "dx": -3},
  "concat": [
    {"width": 558, "height": 418, "transform": [{"filter": "datum.p == 1"}],
     "mark": {"type": "line", "strokeWidth": 5, "interpolate": "monotone"},
     "encoding": {
       "x": {"field": "x", "type": "quantitative", "scale": {"domain": [-0.47, 7.47], "nice": false, "zero": false}, "axis": {"values": [0,1,2,3,4,5,6,7], "labels": false, "title": null}},
       "y": {"field": "y", "type": "quantitative", "scale": {"domain": [0, 4.76], "nice": false}, "axis": {"values": [0,1,2,3,4], "labelExpr": "['0.0','0.2','0.6','0.3','1.0'][datum.value]", "title": "Frequency"}},
       "color": {"field": "s", "type": "nominal", "scale": {"domain": ["A","B","C"], "range": ["#1f71a5","#2a982a","#fb7f10"]}, "legend": {"orient": "none", "legendX": 2155, "legendY": 16, "title": null, "labelExpr": "'Distribution ' + datum.label"}},
       "detail": {"field": "c"}
     }},
    {"width": 558, "height": 418, "transform": [{"filter": "datum.p == 2"}],
     "mark": {"type": "line", "strokeWidth": 5, "interpolate": "monotone"},
     "encoding": {
       "x": {"field": "x", "type": "quantitative", "scale": {"domain": [-0.43, 6.51], "nice": false, "zero": false}, "axis": {"values": [0,1,2,3,4,5,6], "labels": false, "title": null}},
       "y": {"field": "y", "type": "quantitative", "scale": {"domain": [0, 4.76], "nice": false}, "axis": {"values": [0,1,2,3,4], "labelExpr": "['0.0','225','100','175','200'][datum.value]", "title": null}},
       "color": {"field": "s", "type": "nominal", "scale": {"domain": ["A","B","C"], "range": ["#1f71a5","#2a982a","#fb7f10"]}, "legend": {"orient": "none", "legendX": 2155, "legendY": 16, "title": null, "labelExpr": "'Distribution ' + datum.label"}},
       "detail": {"field": "c"}
     }},
    {"width": 558, "height": 418, "transform": [{"filter": "datum.p == 3"}],
     "mark": {"type": "line", "strokeWidth": 5, "interpolate": "monotone"},
     "encoding": {
       "x": {"field": "x", "type": "quantitative", "scale": {"domain": [-0.43, 6.48], "nice": false, "zero": false}, "axis": {"values": [0,1,2,3,4,5,6], "labels": false, "title": null}},
       "y": {"field": "y", "type": "quantitative", "scale": {"domain": [0, 4.76], "nice": false}, "axis": {"values": [0,1,2,3,4], "labelExpr": "['0','2','8','16','12'][datum.value]", "title": null}},
       "color": {"field": "s", "type": "nominal", "scale": {"domain": ["A","B","C"], "range": ["#1f71a5","#2a982a","#fb7f10"]}, "legend": {"orient": "none", "legendX": 2155, "legendY": 16, "title": null, "labelExpr": "'Distribution ' + datum.label"}},
       "detail": {"field": "c"}
     }},
    {"width": 558, "height": 418, "transform": [{"filter": "datum.p == 4"}],
     "mark": {"type": "line", "strokeWidth": 5, "interpolate": "monotone"},
     "encoding": {
       "x": {"field": "x", "type": "quantitative", "scale": {"domain": [-0.42, 6.44], "nice": false, "zero": false}, "axis": {"values": [0,1,2,3,4,5,6], "labels": false, "title": null}},
       "y": {"field": "y", "type": "quantitative", "scale": {"domain": [0, 4.76], "nice": false}, "axis": {"values": [0,1,2,3,4], "labelExpr": "['0','1','2','3','4'][datum.value]", "title": null}},
       "color": {"field": "s", "type": "nominal", "scale": {"domain": ["A","B","C"], "range": ["#1f71a5","#2a982a","#fb7f10"]}, "legend": {"orient": "none", "legendX": 2155, "legendY": 16, "title": null, "labelExpr": "'Distribution ' + datum.label"}},
       "detail": {"field": "c"}
     }},
    {"width": 558, "height": 418, "transform": [{"filter": "datum.p == 5"}],
     "mark": {"type": "line", "strokeWidth": 5, "interpolate": "monotone"},
     "encoding": {
       "x": {"field": "x", "type": "quantitative", "scale": {"domain": [-0.47, 7.47], "nice": false, "zero": false}, "axis": {"values": [0,1,2,3,4,5,6,7], "labels": false, "title": null}},
       "y": {"field": "y", "type": "quantitative", "scale": {"domain": [0, 5], "nice": false}, "axis": {"values": [0,1,2,3,4,5], "labelExpr": "['0.0','0.1','1.0','1.5','0.0','2.0'][datum.value]", "title": "Frequency"}},
       "color": {"field": "s", "type": "nominal", "scale": {"domain": ["A","B","C"], "range": ["#1f71a5","#2a982a","#fb7f10"]}, "legend": {"orient": "none", "legendX": 2155, "legendY": 16, "title": null, "labelExpr": "'Distribution ' + datum.label"}},
       "detail": {"field": "c"}
     }},
    {"width": 558, "height": 418, "transform": [{"filter": "datum.p == 6"}],
     "mark": {"type": "line", "strokeWidth": 5, "interpolate": "monotone"},
     "encoding": {
       "x": {"field": "x", "type": "quantitative", "scale": {"domain": [-0.43, 6.51], "nice": false, "zero": false}, "axis": {"values": [0,1,2,3,4,5,6], "labels": false, "title": null}},
       "y": {"field": "y", "type": "quantitative", "scale": {"domain": [0, 5], "nice": false}, "axis": {"values": [0,1,2,3,4,5], "labelExpr": "['0','1','2','3','4','5'][datum.value]", "title": null}},
       "color": {"field": "s", "type": "nominal", "scale": {"domain": ["A","B","C"], "range": ["#1f71a5","#2a982a","#fb7f10"]}, "legend": {"orient": "none", "legendX": 2155, "legendY": 16, "title": null, "labelExpr": "'Distribution ' + datum.label"}},
       "detail": {"field": "c"}
     }},
    {"width": 558, "height": 418, "transform": [{"filter": "datum.p == 7"}],
     "mark": {"type": "line", "strokeWidth": 5, "interpolate": "monotone"},
     "encoding": {
       "x": {"field": "x", "type": "quantitative", "scale": {"domain": [-0.43, 6.48], "nice": false, "zero": false}, "axis": {"values": [0,1,2,3,4,5,6], "labels": false, "title": null}},
       "y": {"field": "y", "type": "quantitative", "scale": {"domain": [0, 5], "nice": false}, "axis": {"values": [0,1,2,3,4,5], "labelExpr": "['0','1','2','3','14','25'][datum.value]", "title": "Frequency"}},
       "color": {"field": "s", "type": "nominal", "scale": {"domain": ["A","B","C"], "range": ["#1f71a5","#2a982a","#fb7f10"]}, "legend": {"orient": "none", "legendX": 2155, "legendY": 16, "title": null, "labelExpr": "'Distribution ' + datum.label"}},
       "detail": {"field": "c"}
     }},
    {"width": 558, "height": 418, "transform": [{"filter": "datum.p == 8"}],
     "mark": {"type": "line", "strokeWidth": 5, "interpolate": "monotone"},
     "encoding": {
       "x": {"field": "x", "type": "quantitative", "scale": {"domain": [-0.42, 6.44], "nice": false, "zero": false}, "axis": {"values": [0,1,2,3,4,5,6], "labels": false, "title": null}},
       "y": {"field": "y", "type": "quantitative", "scale": {"domain": [0, 5], "nice": false}, "axis": {"values": [0,1,2,3,4,5], "labelExpr": "['0','2','4','6','8','5'][datum.value]", "title": null}},
       "color": {"field": "s", "type": "nominal", "scale": {"domain": ["A","B","C"], "range": ["#1f71a5","#2a982a","#fb7f10"]}, "legend": {"orient": "none", "legendX": 2155, "legendY": 16, "title": null, "labelExpr": "'Distribution ' + datum.label"}},
       "detail": {"field": "c"}
     }},
    {"width": 558, "height": 418, "transform": [{"filter": "datum.p == 9"}],
     "mark": {"type": "line", "strokeWidth": 5, "interpolate": "monotone"},
     "encoding": {
       "x": {"field": "x", "type": "quantitative", "scale": {"domain": [-0.47, 7.47], "nice": false, "zero": false}, "axis": {"values": [0,1,2,3,4,5,6,7], "labelExpr": "['−2','−4','−1','0','0','2','2','0'][datum.value]", "title": "Data Value"}},
       "y": {"field": "y", "type": "quantitative", "scale": {"domain": [0, 5.23], "nice": false}, "axis": {"values": [0,1,2,3,4,5], "labelExpr": "['0.0','0.2','0.4','0.6','0.8','1.0'][datum.value]", "title": "Frequency"}},
       "color": {"field": "s", "type": "nominal", "scale": {"domain": ["A","B","C"], "range": ["#1f71a5","#2a982a","#fb7f10"]}, "legend": {"orient": "none", "legendX": 2155, "legendY": 16, "title": null, "labelExpr": "'Distribution ' + datum.label"}},
       "detail": {"field": "c"}
     }},
    {"width": 558, "height": 418, "transform": [{"filter": "datum.p == 10"}],
     "mark": {"type": "line", "strokeWidth": 5, "interpolate": "monotone"},
     "encoding": {
       "x": {"field": "x", "type": "quantitative", "scale": {"domain": [-0.43, 6.51], "nice": false, "zero": false}, "axis": {"values": [0,1,2,3,4,5,6], "labelExpr": "['−3','−4','−1','0','2','2','0'][datum.value]", "title": "Data Value"}},
       "y": {"field": "y", "type": "quantitative", "scale": {"domain": [0, 5.23], "nice": false}, "axis": {"values": [0,1,2,3,4,5], "labelExpr": "['0','0.2','0.4','0.6','0.8','2.0'][datum.value]", "title": null}},
       "color": {"field": "s", "type": "nominal", "scale": {"domain": ["A","B","C"], "range": ["#1f71a5","#2a982a","#fb7f10"]}, "legend": {"orient": "none", "legendX": 2155, "legendY": 16, "title": null, "labelExpr": "'Distribution ' + datum.label"}},
       "detail": {"field": "c"}
     }},
    {"width": 558, "height": 418, "transform": [{"filter": "datum.p == 11"}],
     "mark": {"type": "line", "strokeWidth": 5, "interpolate": "monotone"},
     "encoding": {
       "x": {"field": "x", "type": "quantitative", "scale": {"domain": [-0.43, 6.48], "nice": false, "zero": false}, "axis": {"values": [0,1,2,3,4,5,6], "labelExpr": "['−4','−3','−1','0','1','2','0'][datum.value]", "title": "Data Value"}},
       "y": {"field": "y", "type": "quantitative", "scale": {"domain": [0, 5.23], "nice": false}, "axis": {"values": [0,1,2,3,4,5], "labelExpr": "['0.0','0.2','0.4','0.6','0.8','1.0'][datum.value]", "title": "Frequency"}},
       "color": {"field": "s", "type": "nominal", "scale": {"domain": ["A","B","C"], "range": ["#1f71a5","#2a982a","#fb7f10"]}, "legend": {"orient": "none", "legendX": 2155, "legendY": 16, "title": null, "labelExpr": "'Distribution ' + datum.label"}},
       "detail": {"field": "c"}
     }},
    {"width": 558, "height": 418, "transform": [{"filter": "datum.p == 12"}],
     "mark": {"type": "line", "strokeWidth": 5, "interpolate": "monotone"},
     "encoding": {
       "x": {"field": "x", "type": "quantitative", "scale": {"domain": [-0.42, 6.44], "nice": false, "zero": false}, "axis": {"values": [0,1,2,3,4,5,6], "labelExpr": "['−4','−2','−1','0','1','2','0'][datum.value]", "title": "Data Value"}},
       "y": {"field": "y", "type": "quantitative", "scale": {"domain": [0, 5.23], "nice": false}, "axis": {"values": [0,1,2,3,4,5], "labelExpr": "['0.0','0.1','0.4','0.5','0.8','100'][datum.value]", "title": null}},
       "color": {"field": "s", "type": "nominal", "scale": {"domain": ["A","B","C"], "range": ["#1f71a5","#2a982a","#fb7f10"]}, "legend": {"orient": "none", "legendX": 2155, "legendY": 16, "title": null, "labelExpr": "'Distribution ' + datum.label"}},
       "detail": {"field": "c"}
     }}
  ],
  "config": {
    "font": "DejaVu Sans",
    "view": {"stroke": "#000000", "strokeWidth": 2.5},
    "axis": {
      "labelFont": "DejaVu Sans", "labelFontSize": 31, "labelColor": "#4d4d4d",
      "titleFont": "DejaVu Sans", "titleFontSize": 44, "titleFontWeight": "normal", "titleColor": "#000000",
      "domainColor": "#000000", "domainWidth": 2.5,
      "tickColor": "#1a1a1a", "tickWidth": 2.5, "tickSize": 13,
      "gridColor": "#e6e9e9", "gridWidth": 1.5,
      "labelFlush": false, "labelOverlap": false
    },
    "axisY": {"labelPadding": 15, "titlePadding": 18},
    "axisX": {"labelPadding": 7, "titlePadding": 12},
    "legend": {
      "labelFont": "DejaVu Sans", "labelFontSize": 45, "labelColor": "#000000", "labelLimit": 0,
      "symbolType": "M-2,0H2", "symbolSize": 2500, "symbolStrokeWidth": 5, "symbolOffset": 24,
      "labelOffset": 48, "padding": 16, "rowPadding": 15,
      "fillColor": "#ffffff", "strokeColor": "#cfcfcf", "cornerRadius": 8
    }
  }
}
